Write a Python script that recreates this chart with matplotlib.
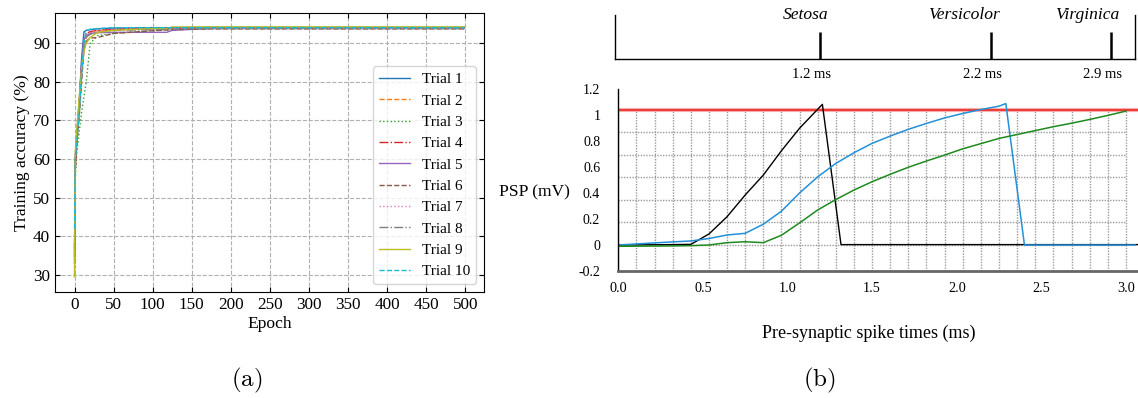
import numpy as np
import matplotlib
matplotlib.use('Agg')
import matplotlib.pyplot as plt

plt.rcParams['font.family'] = ['Liberation Serif', 'DejaVu Serif']
plt.rcParams['mathtext.fontset'] = 'cm'

# === Panel (a): training accuracy per trial ===
epochs = [0, 1, 3, 6, 9, 12, 15, 20, 30, 50, 100, 118, 125, 175, 300, 499]
trial_1 = [33, 60, 66, 74, 86, 92.9, 93.3, 93.5, 93.7, 93.9, 94.0, 94.0, 94.0, 94.1, 94.1, 94.1]
trial_2 = [38, 58, 65, 72, 82, 89, 92.0, 92.8, 93.2, 93.5, 93.6, 93.7, 93.7, 93.8, 93.8, 93.8]
trial_3 = [30, 55, 62, 67, 72, 76, 80, 90, 92.0, 92.5, 93.3, 93.4, 93.5, 93.8, 93.9, 93.9]
trial_4 = [36, 59, 66, 74, 84, 91, 92.5, 93.0, 93.3, 93.6, 93.8, 93.8, 93.8, 93.9, 93.9, 93.9]
trial_5 = [35, 61, 67, 75, 85, 91, 92.0, 92.5, 92.7, 92.8, 92.8, 92.8, 93.3, 93.8, 93.8, 93.8]
trial_6 = [37, 57, 64, 71, 80, 88, 90.5, 91.3, 91.5, 92.5, 93.2, 93.4, 93.5, 93.7, 93.7, 93.7]
trial_7 = [40, 60, 66, 73, 83, 90, 92.3, 92.8, 93.2, 93.5, 93.7, 93.8, 93.8, 93.9, 93.9, 93.9]
trial_8 = [34, 58, 65, 72, 81, 89, 91.5, 92.3, 92.8, 93.3, 93.5, 93.6, 93.6, 93.8, 93.8, 93.8]
trial_9 = [29.5, 62, 68, 76, 83, 88, 90, 91.5, 92.8, 93.3, 93.8, 93.8, 94.2, 94.2, 94.2, 94.2]
trial_10 = [42, 60, 65, 72, 82, 90, 93.3, 93.6, 93.8, 94.0, 94.0, 94.0, 94.0, 94.0, 94.0, 94.0]
trials = [trial_1, trial_2, trial_3, trial_4, trial_5,
          trial_6, trial_7, trial_8, trial_9, trial_10]
trial_labels = [f'Trial {i + 1}' for i in range(len(trials))]
styles = ['-', '--', ':', '-.'] * 3

# === Panel (b): PSP traces ===
threshold = 1.04
grid_t = [0.0, 0.107, 0.214, 0.321, 0.429, 0.536, 0.643, 0.75, 0.857, 0.964,
          1.071, 1.179, 1.286, 1.393, 1.5, 1.607, 1.714, 1.821, 1.929, 2.036,
          2.143, 2.25, 2.357, 2.464, 2.571, 2.679, 2.786, 2.893, 3.0]

setosa_t = grid_t[:11] + [1.206, 1.316, 3.07]
setosa_v = [0.0, 0.001, 0.002, 0.003, 0.005, 0.085, 0.218, 0.385, 0.538, 0.725,
            0.898, 1.082, 0.003, 0.003]
versicolor_t = grid_t[:22] + [2.29, 2.40, 3.055]
versicolor_v = [0.0, 0.008, 0.016, 0.024, 0.031, 0.05, 0.077, 0.09, 0.16, 0.26,
                0.40, 0.525, 0.628, 0.71, 0.782, 0.838, 0.89, 0.935, 0.978, 1.012,
                1.042, 1.068, 1.088, 0.0, 0.0]
virginica_t = grid_t
virginica_v = [-0.01, -0.009, -0.008, -0.007, -0.005, 0.0, 0.018, 0.025, 0.018, 0.075,
               0.17, 0.27, 0.35, 0.423, 0.487, 0.544, 0.598, 0.646, 0.692, 0.74,
               0.78, 0.82, 0.85, 0.88, 0.91, 0.937, 0.966, 0.997, 1.03]

class_names = ['Setosa', 'Versicolor', 'Virginica']
class_times = [1.2, 2.2, 2.9]

W, H = 1138, 398
fig = plt.figure(figsize=(W / 100, H / 100), dpi=100)

# --- (a) ---
ax1 = fig.add_axes([55 / W, 106 / H, 429 / W, 279 / H])
for i, (vals, lab, ls) in enumerate(zip(trials, trial_labels, styles)):
    ax1.plot(epochs, vals, linestyle=ls, color=f'C{i}', lw=1.0, label=lab)
ax1.set_xlim(-25, 524)
ax1.set_ylim(25.6, 97.8)
ax1.set_xticks(np.arange(0, 501, 50))
ax1.set_yticks(np.arange(30, 91, 10))
ax1.tick_params(direction='in', top=True, right=True, labelsize=12.3)
ax1.grid(True, ls='--', color='#b0b0b0', lw=0.8)
ax1.set_xlabel('Epoch', fontsize=12.6, labelpad=2)
ax1.set_ylabel('Training accuracy (%)', fontsize=12.6, labelpad=2)
ax1.legend(loc='lower right', fontsize=11)

# --- (b) top timeline ---
ax3 = fig.add_axes([614.7 / W, (H - 59.3) / H, 520.3 / W, 44.3 / H])
ax3.set_xlim(0, 3.04)
ax3.set_ylim(0, 1)
ax3.spines['top'].set_visible(False)
for s in ['left', 'right', 'bottom']:
    ax3.spines[s].set_linewidth(1.0)
ax3.set_xticks([])
ax3.set_yticks([])
ax3.patch.set_alpha(0)
ax3.vlines(class_times, 0, 0.61, color='black', lw=1.8)
for name, t in zip(class_names, class_times):
    ax3.annotate(name, (t, 1.0), xytext=(6, 0), textcoords='offset points',
                 ha='right', va='center', fontsize=12.6, style='italic')
    ax3.annotate(f'{t} ms', (t, 0.0), xytext=(-6.5, -10.6), textcoords='offset points',
                 ha='center', va='center', fontsize=10.5)

# --- (b) PSP plot ---
ax2 = fig.add_axes([618.3 / W, 127 / H, 519.7 / W, 182 / H])
ax2.set_xlim(0, 3.071)
ax2.set_ylim(-0.2, 1.2)
ax2.vlines(grid_t, -0.2, threshold, color='#9a9a9a', lw=1.0, ls=(0, (1, 1)))
ax2.hlines([threshold * j / 6 for j in range(6)], 0, grid_t[-1],
           color='#9a9a9a', lw=1.0, ls=(0, (1, 1)))
ax2.axhline(threshold, color='#f7b0b0', lw=3.0)
ax2.axhline(threshold, color='#ee3b35', lw=1.4)
ax2.plot(setosa_t, setosa_v, color='black', lw=1.0)
ax2.plot(versicolor_t, versicolor_v, color='#2390d8', lw=1.1)
ax2.plot(virginica_t, virginica_v, color='#1e8a1e', lw=1.1)

for s in ['top', 'right']:
    ax2.spines[s].set_visible(False)
ax2.spines['left'].set_linewidth(1.0)
ax2.spines['bottom'].set_linewidth(2.0)
ax2.spines['bottom'].set_color('#666666')
ax2.set_xticks([0.0, 0.5, 1.0, 1.5, 2.0, 2.5, 3.0])
ax2.set_xticklabels(['0.0', '0.5', '1.0', '1.5', '2.0', '2.5', '3.0'])
ax2.set_yticks([-0.2, 0, 0.2, 0.4, 0.6, 0.8, 1.0, 1.2])
ax2.set_yticklabels(['-0.2', '0', '0.2', '0.4', '0.6', '0.8', '1', '1.2'])
ax2.tick_params(axis='y', length=0, pad=13, labelsize=10)
ax2.tick_params(axis='x', length=0, pad=8, labelsize=10.3)
ax2.set_ylabel('PSP (mV)', rotation=0, fontsize=12.6, ha='center', va='center')
ax2.yaxis.set_label_coords(-0.162, 0.434)
ax2.set_xlabel('Pre-synaptic spike times (ms)', fontsize=13, va='center')
ax2.xaxis.set_label_coords(0.482, -0.341)

# --- captions ---
fig.text(247 / W, 1 - 380 / H, r'$(\mathrm{a})$', ha='center', va='center', fontsize=18)
fig.text(819 / W, 1 - 380 / H, r'$(\mathrm{b})$', ha='center', va='center', fontsize=18)

fig.savefig('out.png', dpi=100)
